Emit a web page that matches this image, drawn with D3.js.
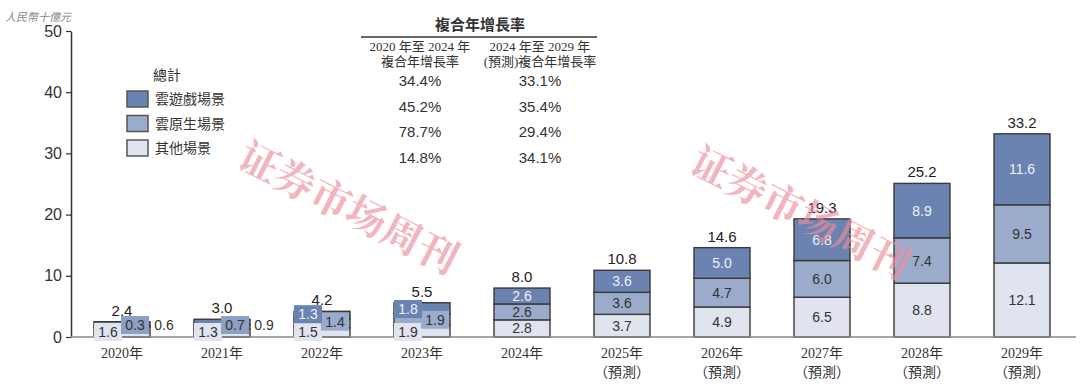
<!DOCTYPE html>
<html>
<head>
<meta charset="utf-8">
<script src="https://cdn.jsdelivr.net/npm/d3@7"></script>
<style>
  body { margin: 0; background: #fff; }
  svg { display: block; }
</style>
</head>
<body>
<script>
// datos
const years = ["2020年", "2021年", "2022年", "2023年", "2024年", "2025年", "2026年", "2027年", "2028年", "2029年"];
const forecast = [false, false, false, false, false, true, true, true, true, true];
const otherScene = [1.6, 1.3, 1.5, 1.9, 2.8, 3.7, 4.9, 6.5, 8.8, 12.1];
const nativeScene = [0.3, 0.7, 1.4, 1.9, 2.6, 3.6, 4.7, 6.0, 7.4, 9.5];
const gamingScene = [0.6, 0.9, 1.3, 1.8, 2.6, 3.6, 5.0, 6.8, 8.9, 11.6];
const totals = [2.4, 3.0, 4.2, 5.5, 8.0, 10.8, 14.6, 19.3, 25.2, 33.2];
const yTicks = [0, 10, 20, 30, 40, 50];
const seriesNames = ["雲遊戲場景", "雲原生場景", "其他場景"];
const cagrTitle = "複合年增長率";
const cagrHead1 = ["2020 年至 2024 年", "複合年增長率"];
const cagrHead2 = ["2024 年至 2029 年", "(預測)複合年增長率"];
const cagr1 = ["34.4%", "45.2%", "78.7%", "14.8%"];
const cagr2 = ["33.1%", "35.4%", "29.4%", "34.1%"];

const W = 1080, H = 386;
const margin = { top: 31, left: 72, bottom: 49 };
const colors = { gaming: "#6a83b0", native: "#9aabcb", other: "#dfe4ee" };
const sans = "Arial, 'Liberation Sans', 'Noto Sans CJK TC', sans-serif";
const serif = "'Liberation Serif', 'Noto Sans CJK TC', serif";

const svg = d3.select("body").append("svg")
    .attr("width", W)
    .attr("height", H);

// escalas
const x = d3.scaleBand()
    .domain(years)
    .range([margin.left, margin.left + 1000])
    .paddingInner(0.44)
    .paddingOuter(0.22);

const y = d3.scaleLinear()
    .domain([0, 50])
    .range([H - margin.bottom, margin.top]);

// eje Y
const yAxis = svg.append("g")
    .attr("transform", `translate(${margin.left - 1},0)`)
    .call(d3.axisLeft(y).tickValues(yTicks).tickSize(5).tickSizeOuter(0));
yAxis.select(".domain").attr("stroke", "#333").attr("stroke-width", 1.5);
yAxis.selectAll(".tick line").attr("stroke", "#333").attr("stroke-width", 1.2);
yAxis.selectAll(".tick text")
    .attr("x", -9)
    .attr("font-family", sans)
    .attr("font-size", 16)
    .attr("fill", "#333");

svg.append("text")
    .attr("x", 5).attr("y", 21)
    .attr("font-family", serif)
    .attr("font-style", "italic")
    .attr("font-size", 11)
    .attr("fill", "#888")
    .text("人民幣十億元");

// barras apiladas
const stackData = years.map((yr, i) => ({ year: yr, other: otherScene[i], native: nativeScene[i], gaming: gamingScene[i] }));
const keys = ["other", "native", "gaming"];
const stacked = d3.stack().keys(keys)(stackData);

svg.append("g").selectAll("g")
    .data(stacked)
    .join("g")
    .attr("fill", d => colors[d.key])
    .selectAll("rect")
    .data(d => d)
    .join("rect")
    .attr("x", d => x(d.data.year))
    .attr("y", d => y(d[1]))
    .attr("width", x.bandwidth())
    .attr("height", d => y(d[0]) - y(d[1]))
    .attr("stroke", "#3a3a3a")
    .attr("stroke-width", 1.4);

// línea base
svg.append("line")
    .attr("x1", margin.left - 1).attr("x2", 1076)
    .attr("y1", y(0)).attr("y2", y(0))
    .attr("stroke", "#888").attr("stroke-width", 1.5);

// etiquetas de valores
const lbl = svg.append("g").attr("font-family", sans).attr("font-size", 14);

function boxLabel(cx, cy, txt, bg, fg) {
    if (bg) {
        lbl.append("rect")
            .attr("x", cx - 14).attr("y", cy - 9)
            .attr("width", 28).attr("height", 18)
            .attr("fill", bg);
    }
    lbl.append("text")
        .attr("x", cx).attr("y", cy)
        .attr("text-anchor", "middle")
        .attr("dominant-baseline", "central")
        .attr("fill", fg)
        .text(txt);
}

stackData.forEach((d, i) => {
    const cx = x(d.year) + x.bandwidth() / 2;
    const base = y(0);
    if (totals[i] < 4) {
        // barras pequeñas: etiquetas desplazadas
        boxLabel(cx - 14, base - 5, d.other.toFixed(1), colors.other, "#333");
        boxLabel(cx + 13, base - 12, d.native.toFixed(1), "#8d9fc3", "#333");
        boxLabel(cx + 42, base - 12, d.gaming.toFixed(1), null, "#333");
    } else if (totals[i] < 7) {
        boxLabel(cx - 14, base - 5, d.other.toFixed(1), colors.other, "#333");
        boxLabel(cx + 13, base - 15 - (totals[i] - 4) * 1.5, d.native.toFixed(1), colors.native, "#333");
        boxLabel(cx - 14, base - 22 - (totals[i] - 4) * 4, d.gaming.toFixed(1), colors.gaming, "#eef1f7");
    } else {
        boxLabel(cx, (y(0) + y(d.other)) / 2, d.other.toFixed(1), null, "#333");
        boxLabel(cx, (y(d.other) + y(d.other + d.native)) / 2, d.native.toFixed(1), null, "#333");
        boxLabel(cx, (y(d.other + d.native) + y(d.other + d.native + d.gaming)) / 2, d.gaming.toFixed(1), null, "#eef1f7");
    }
    lbl.append("text")
        .attr("x", cx)
        .attr("y", y(d.other + d.native + d.gaming) - 6)
        .attr("text-anchor", "middle")
        .attr("font-size", 15)
        .attr("fill", "#222")
        .text(totals[i].toFixed(1));
});

// etiquetas de años
const xl = svg.append("g").attr("font-family", serif).attr("font-size", 14).attr("fill", "#333");
years.forEach((yr, i) => {
    const cx = x(yr) + x.bandwidth() / 2;
    xl.append("text").attr("x", cx).attr("y", 358).attr("text-anchor", "middle").text(yr);
    if (forecast[i]) {
        xl.append("text").attr("x", cx).attr("y", 377).attr("text-anchor", "middle").text("（預測）");
    }
});

// leyenda
const leg = svg.append("g").attr("font-family", serif).attr("font-size", 14).attr("fill", "#333");
leg.append("text").attr("x", 153).attr("y", 80).text("總計");
const legColors = [colors.gaming, colors.native, colors.other];
seriesNames.forEach((n, i) => {
    const ly = 91 + i * 24.5;
    leg.append("rect")
        .attr("x", 127).attr("y", ly)
        .attr("width", 21).attr("height", 16)
        .attr("fill", legColors[i])
        .attr("stroke", "#555").attr("stroke-width", 1.5);
    leg.append("text").attr("x", 155).attr("y", ly + 13).text(n);
});

// tabla de CAGR
const tb = svg.append("g").attr("fill", "#333");
tb.append("text")
    .attr("x", 480).attr("y", 30)
    .attr("text-anchor", "middle")
    .attr("font-family", serif)
    .attr("font-weight", "bold")
    .attr("font-size", 15)
    .text(cagrTitle);
tb.append("line")
    .attr("x1", 361).attr("x2", 597)
    .attr("y1", 37).attr("y2", 37)
    .attr("stroke", "#333").attr("stroke-width", 1.3);
[[420, cagrHead1, cagr1], [540, cagrHead2, cagr2]].forEach(([cx, head, vals]) => {
    head.forEach((h, j) => {
        tb.append("text")
            .attr("x", cx).attr("y", 51 + j * 15)
            .attr("text-anchor", "middle")
            .attr("font-family", serif)
            .attr("font-size", 13)
            .text(h);
    });
    vals.forEach((v, j) => {
        tb.append("text")
            .attr("x", cx).attr("y", 86 + j * 25.7)
            .attr("text-anchor", "middle")
            .attr("font-family", sans)
            .attr("font-size", 15)
            .text(v);
    });
});

// marca de agua (encima de las barras, semitransparente)
[[350, 205], [802, 210]].forEach(p => {
    svg.append("text")
        .attr("transform", `translate(${p[0]},${p[1]}) rotate(27)`)
        .attr("text-anchor", "middle")
        .attr("dominant-baseline", "central")
        .attr("font-family", "'Noto Serif CJK SC', 'Noto Sans CJK SC', serif")
        .attr("font-weight", "bold")
        .attr("font-size", 40)
        .attr("fill", "#ec8f9b")
        .attr("opacity", 0.65)
        .text("证券市场周刊");
});
</script>
</body>
</html>
